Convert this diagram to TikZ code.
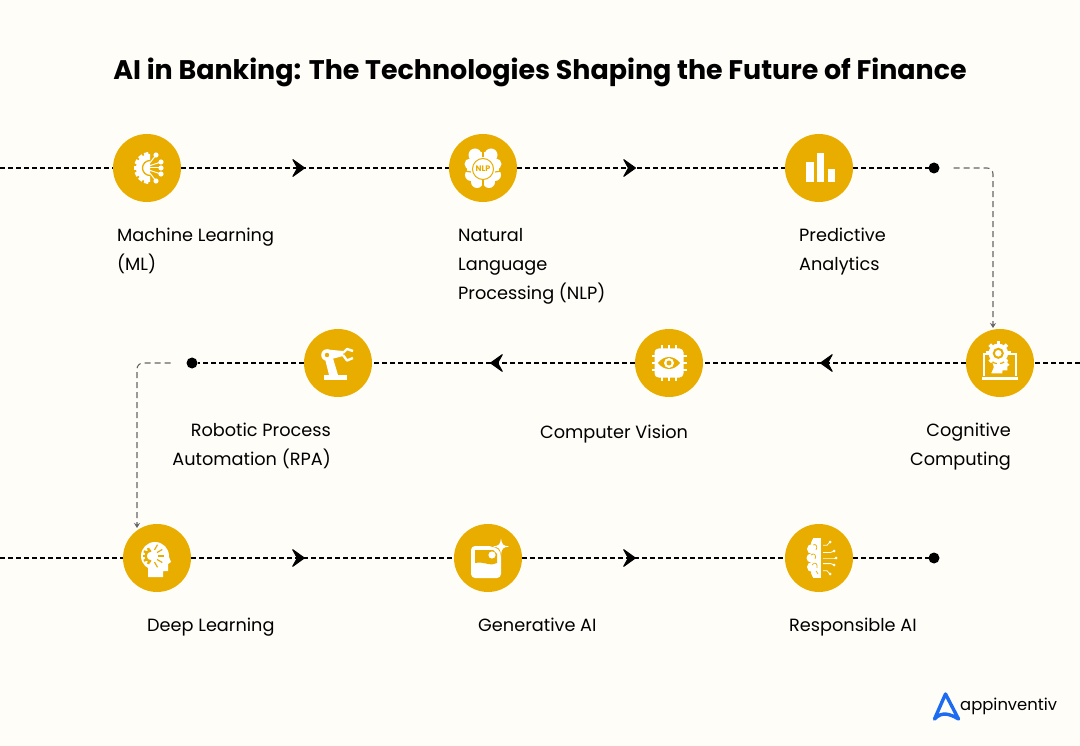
\documentclass[tikz,border=0pt]{standalone}
\usepackage{fontspec}
\setmainfont{Poppins}
\usepackage{tikz}
\usetikzlibrary{positioning, arrows.meta, decorations.markings}
\definecolor{paper}{HTML}{FFFDF8}
\definecolor{gold}{HTML}{E9AD00}
\definecolor{linkgray}{HTML}{666666}
\definecolor{logoblue}{HTML}{1D6BF0}
\tikzset{
	x=1pt, y=-1pt,
	edge/.style={line width=2pt, draw=black, dash pattern=on 5.2pt off 2.8pt},
	tipped/.style={
		postaction={decorate},
		decoration={markings, mark=at position #1 with {\arrow[line width=1pt]{Stealth[length=14pt, width=20pt, inset=5.5pt, round]}}}
	},
	link/.style={line width=1.1pt, draw=linkgray, dash pattern=on 6pt off 4pt, rounded corners=6pt, -{Stealth[length=5pt, width=6pt]}},
	step circle/.style={
		circle,
		fill=gold,
		minimum size=68pt,
		inner sep=0pt,
		outer sep=0pt
	},
	end dot/.style={
		circle,
		fill=black,
		minimum size=11pt,
		inner sep=0pt,
		outer sep=0pt
	},
	step label/.style={
		anchor=north west,
		align=left,
		inner sep=0pt,
		font=\fontsize{17.7}{29}\selectfont
	},
	node distance=268pt
}
\newcommand{\iconml}[1]{% machine learning, node name
	\begin{scope}[shift={(#1)}]
		\fill[white] (3,-14) arc (-90:-270:14) -- cycle;
		\foreach \a in {105,130,155,180,205,230,255}
			\fill[white, rotate around={\a:(3,0)}] (15,-2.2) rectangle (19,2.2);
		\draw[gold, line width=1.3pt] (3,-7.5) arc (-90:-270:7.5);
		\foreach \dx/\dy in {9/-13, 14/-6, 14/0, 14/6, 9/13} {
			\draw[white, line width=1pt] (3,0.4*\dy) -- (\dx,\dy);
			\fill[white] (\dx,\dy) circle (2.6);
		}
	\end{scope}
}
\newcommand{\iconnlp}[1]{% brain with text, node name
	\begin{scope}[shift={(#1)}]
		\foreach \cx/\cy/\r in {-8/-13/6.5, 8/-13/6.5, -13/-4/5.5, 13/-4/5.5, -12/7/6, 12/7/6, -6/14/6, 6/14/6, 0/0/16}
			\fill[white] (\cx,\cy) circle (\r);
		\draw[gold, line width=1.2pt] (0,-20) -- (0,-11);
		\draw[gold, line width=1.2pt] (0,12) -- (0,20);
		\draw[gold, line width=1.2pt] (-19,3) -- (-12,4);
		\draw[gold, line width=1.2pt] (19,3) -- (12,4);
		\draw[gold, line width=1pt, fill=white] (0,1) circle (10.5);
		\node[text=gold, inner sep=0pt, font=\fontsize{8}{9}\bfseries\selectfont] (nlptext) at (0,1) {NLP};
	\end{scope}
}
\newcommand{\iconbars}[1]{% bar chart, node name
	\begin{scope}[shift={(#1)}]
		\fill[white] (-13,-6) rectangle (-5,14);
		\fill[white] (-2,-15) rectangle (5,14);
		\fill[white] (9,1) rectangle (16,14);
	\end{scope}
}
\newcommand{\iconcog}[1]{% head on a laptop, node name
	\begin{scope}[shift={(#1)}]
		\draw[white, line width=1.3pt] (-16,13) -- (-16,-9) -- (16,-9) -- (16,13);
		\fill[white] (-18,14) rectangle (18,17);
		\fill[white, draw=gold, line width=1.5pt, line join=round] (-10,11) -- (-7,4) -- (-10,-5) -- (8,-7) -- (8,-1) -- (11,2) -- (8,4) -- (8,8) -- (3,8) -- (3,11) -- cycle;
		\fill[white, draw=gold, line width=1.2pt] (-1.7,-9.7) circle (10.5);
		\foreach \a in {0,45,...,315}
			\fill[white, rotate around={\a:(-1.7,-9.7)}] (7,-11.5) rectangle (10.5,-7.9);
		\draw[gold, line width=2pt] (-1.7,-9.7) circle (4.5);
	\end{scope}
}
\newcommand{\iconeye}[1]{% chip with an eye, node name
	\begin{scope}[shift={(#1)}]
		\foreach \p in {-7,0,7} {
			\fill[white] (\p-1.2,-17.5) rectangle (\p+1.2,17.5);
			\fill[white] (-17.5,\p-1.2) rectangle (17.5,\p+1.2);
		}
		\fill[white, rounded corners=4pt] (-14.5,-14.5) rectangle (14.5,14.5);
		\fill[gold] (-11,0) .. controls (-5,-8) and (5,-8) .. (11,0) .. controls (5,8) and (-5,8) .. (-11,0) -- cycle;
		\fill[white] (0,0) circle (5);
		\fill[gold] (0,0) circle (2.5);
	\end{scope}
}
\newcommand{\iconrobot}[1]{% robot arm, node name
	\begin{scope}[shift={(#1)}]
		\fill[white] (-14,12) rectangle (8.7,17);
		\fill[white] (-14,-8) -- (-6,-8) -- (0,12) -- (-9,12) -- cycle;
		\fill[white] (-11,-13.5) -- (5,-12) -- (5,-7) -- (-8,-3.5) -- cycle;
		\fill[white] (-11,-8) circle (5.8);
		\fill[gold] (-11,-8) circle (2.2);
		\draw[white, line width=2.4pt, line join=round] (5,-10) -- (9,-14) -- (15,-12);
		\draw[white, line width=2.4pt, line join=round] (5,-8) -- (9,-2.5) -- (15,-5);
	\end{scope}
}
\newcommand{\iconhead}[1]{% head with gear, node name
	\begin{scope}[shift={(#1)}]
		\fill[white] (-2,-2) circle (14);
		\fill[white] (-9,6) -- (-9,19) -- (6,19) -- (6,13) -- (11,13) -- (11,6) -- (14,4) -- (10,-6) -- cycle;
		\draw[gold, line width=2.2pt] (-6,-7.5) arc (-90:-270:5.5);
		\foreach \a in {110,145,180,215,250}
			\fill[gold, rotate around={\a:(-6,-2)}] (-1,-3.2) rectangle (2.5,-0.8);
		\foreach \a in {-60,-30,0,30,60}
			\draw[gold, line width=1.2pt, rotate around={\a:(-6,-2)}] (1,-2) -- (7,-2);
	\end{scope}
}
\newcommand{\icongen}[1]{% picture with a sparkle, node name
	\begin{scope}[shift={(#1)}]
		\fill[white, rounded corners=4pt] (-17,-12) rectangle (13,20);
		\fill[gold] (-13,-8) -- (5,-8) -- (9,-4) -- (9,5) .. controls (3,9) and (-4,3) .. (-13,5) -- cycle;
		\fill[white] (4,-3) circle (3.6);
		\fill[gold] (13,-22) .. controls (14,-14) and (16,-12.5) .. (24,-11.5) .. controls (16,-10.5) and (14,-9) .. (13,-1) .. controls (12,-9) and (10,-10.5) .. (2,-11.5) .. controls (10,-12.5) and (12,-14) .. (13,-22) -- cycle;
		\fill[white] (13,-19.5) .. controls (14,-13) and (15,-12.5) .. (21,-11.5) .. controls (15,-10.5) and (14,-10) .. (13,-3.5) .. controls (12,-10) and (11,-10.5) .. (5,-11.5) .. controls (11,-12.5) and (12,-13) .. (13,-19.5) -- cycle;
	\end{scope}
}
\newcommand{\iconbrain}[1]{% half brain with circuit lines, node name
	\begin{scope}[shift={(#1)}]
		\foreach \cx/\cy/\r in {-3/-15/5, -7/-9/5, -8/0/4.5, -7/9/5, -3/15/5}
			\fill[white] (\cx,\cy) circle (\r);
		\fill[white] (-6,-20) rectangle (2,20);
		\draw[gold, line width=0.7pt] (-6,-13) .. controls (-3,-15) and (-1,-11) .. (-3,-8);
		\draw[gold, line width=0.7pt] (-8,-3) .. controls (-5,-6) and (-2,-2) .. (-4,1);
		\draw[gold, line width=0.7pt] (-7,7) .. controls (-4,3) and (-1,6) .. (-2,10);
		\draw[gold, line width=0.7pt] (-3,13) -- (-1,16);
		\foreach \dx/\dy in {11/-16, 15/-7, 17/0, 15/7, 11/16} {
			\draw[white, line width=0.8pt] (4,0.8*\dy) -- (\dx-3,0.8*\dy) -- (\dx,\dy);
			\fill[white] (\dx,\dy) circle (1.5);
		}
	\end{scope}
}

\begin{document}
\begin{tikzpicture}
	\fill[paper] (0,0) rectangle (1080,746);
	\useasboundingbox (0,0) rectangle (1080,746);

	\node[font=\fontsize{26.9}{32}\bfseries\selectfont] (title) at (540,72) {AI in Banking: The Technologies Shaping the Future of Finance};

	% first row
	\coordinate (w1) at (0,168);
	\node[step circle] (n1) at (147,168) {};
	\node[step circle, right=268pt of n1] (n2) {};
	\node[step circle, right=268pt of n2] (n3) {};
	\node[end dot] (d1) at (934,168) {};

	% second row
	\coordinate (w2) at (1080,363);
	\node[step circle] (n4) at (1000,363) {};
	\node[step circle, left=263pt of n4] (n5) {};
	\node[step circle, left=263pt of n5] (n6) {};
	\node[end dot] (d2) at (192,363) {};

	% third row
	\coordinate (w3) at (0,558);
	\node[step circle] (n7) at (157,558) {};
	\node[step circle, right=263pt of n7] (n8) {};
	\node[step circle, right=263pt of n8] (n9) {};
	\node[end dot] (d3) at (934,558) {};

	\draw[edge] (w1) -- (n1);
	\draw[edge, tipped=0.463] (n1) -- (n2);
	\draw[edge, tipped=0.444] (n2) -- (n3);
	\draw[edge] (n3) -- (d1);

	\draw[edge] (w2) -- (n4);
	\draw[edge, tipped=0.555] (n4) -- (n5);
	\draw[edge, tipped=0.551] (n5) -- (n6);
	\draw[edge] (n6) -- (d2);

	\draw[edge] (w3) -- (n7);
	\draw[edge, tipped=0.433] (n7) -- (n8);
	\draw[edge, tipped=0.433] (n8) -- (n9);
	\draw[edge] (n9) -- (d3);

	\coordinate (c1) at (993,328);
	\coordinate (c2) at (137,528);
	\draw[link, shorten <=14pt] (d1.east) -| (c1);
	\draw[link, shorten <=16pt] (d2.west) -| (c2);

	\iconml{n1}
	\iconnlp{n2}
	\iconbars{n3}
	\iconcog{n4}
	\iconeye{n5}
	\iconrobot{n6}
	\iconhead{n7}
	\icongen{n8}
	\iconbrain{n9}

	\node[step label] (l1) at (117,227.5) {Machine Learning\\(ML)};
	\node[step label] (l2) at (458,228.5) {Natural\\Language\\Processing (NLP)};
	\node[step label] (l3) at (799,227.5) {Predictive\\Analytics};
	\node[step label, align=right, anchor=north east] (l4) at (1011,422.5) {Cognitive\\Computing};
	\node[step label] (l5) at (540,424.5) {Computer Vision};
	\node[step label, align=right, anchor=north east] (l6) at (331,422.5) {Robotic Process\\Automation (RPA)};
	\node[step label] (l7) at (147,617.5) {Deep Learning};
	\node[step label] (l8) at (478,617.5) {Generative AI};
	\node[step label] (l9) at (789,617.5) {Responsible AI};

	% logo
	\coordinate (a1) at (934.5,719);
	\coordinate (a2) at (945.5,694);
	\coordinate (a3) at (958.5,719);
	\draw[logoblue, line width=3.4pt, line join=round, line cap=round] (a1) -- (a2) -- (a3) .. controls (950,714) and (942,711) .. (a1);
	\node[anchor=west, inner sep=0pt, font=\fontsize{16.4}{20}\selectfont] (logo) at (960,706) {appinventiv};
\end{tikzpicture}
\end{document}
